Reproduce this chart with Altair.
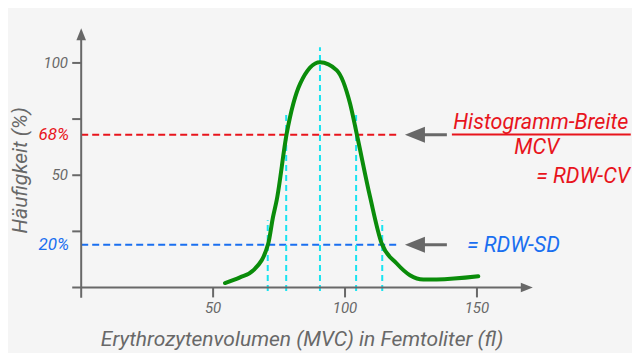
import altair as alt
import pandas as pd

# curve (MCV in fl, frequency in %)
curve_x = [54.5, 60.2, 65.3, 70.9, 72.7, 74.1, 77.9, 83.0, 90.5, 96.9, 101.9, 104.4, 109.5, 113.9, 119.6, 124.6, 129.7, 134.7, 150.5]
curve_y = [2.0, 4.5, 7.7, 19.6, 31.4, 38.9, 68.6, 90.8, 100.3, 96.7, 81.9, 68.6, 40.3, 19.6, 10.7, 5.5, 3.6, 3.6, 5.0]

# cyan vertical markers
vline_x = [70.7, 77.7, 90.5, 104.2, 114.1]
vline_top = [30, 77.5, 107, 77.5, 30]

# horizontal reference levels
h_levels = [68, 19]
h_labels = ["68%", "20%"]
h_colors = ["#e8141c", "#1a6ff0"]

y_ticks = [25, 50, 75, 100]
y_tick_labels = ["", "50", "", "100"]
x_ticks = [50, 100, 150]
x_tick_labels = ["50", "100", "150"]

GRAY = "#686868"
RED = "#e8141c"
BLUE = "#1a6ff0"
FONT = "Roboto"

xs = alt.Scale(domain=[-5, 172], nice=False, zero=False)
ys = alt.Scale(domain=[-6, 116], nice=False, zero=False)

def X(f="x"):
    return alt.X(f, type="quantitative", scale=xs, axis=None)

def Y(f="y"):
    return alt.Y(f, type="quantitative", scale=ys, axis=None)

# axes lines
axes_df = pd.DataFrame({"x": [-3.4, 0], "x2": [169, 0], "y": [0, -4.5], "y2": [0, 112]})
axes = alt.Chart(axes_df).mark_rule(color=GRAY, strokeWidth=2).encode(
    x=X("x"), x2="x2", y=Y("y"), y2="y2")

ytick_df = pd.DataFrame({"x": [-3.4] * 4, "x2": [0] * 4, "y": y_ticks, "label": y_tick_labels})
yticks = alt.Chart(ytick_df).mark_rule(color=GRAY, strokeWidth=2).encode(
    x=X("x"), x2="x2", y=Y("y"))
ylabels = alt.Chart(ytick_df).mark_text(align="right", baseline="middle", font=FONT,
                                        fontStyle="italic", fontSize=15, color=GRAY).encode(
    x=X("lx"), y=Y("y"), text="label").transform_calculate(lx="-5")

xtick_df = pd.DataFrame({"x": x_ticks, "y": [0] * 3, "y2": [-4.4] * 3, "label": x_tick_labels})
xticks = alt.Chart(xtick_df).mark_rule(color=GRAY, strokeWidth=2).encode(
    x=X("x"), y=Y("y"), y2="y2")
xlabels = alt.Chart(xtick_df).mark_text(align="center", baseline="middle", font=FONT,
                                        fontStyle="italic", fontSize=15, color=GRAY).encode(
    x=X("x"), y=Y("ly"), text="label").transform_calculate(ly="-9.3")

# arrowheads on axes
ahead_df = pd.DataFrame({"x": [0], "y": [112.8]})
yarrow = alt.Chart(ahead_df).mark_point(shape="M 0 -1 L -0.8 1 L 0.8 1 Z", filled=True,
                                        opacity=1, size=144, color=GRAY).encode(x=X("x"), y=Y("y"))
xhead_df = pd.DataFrame({"x": [168.9], "y": [0]})
xarrow = alt.Chart(xhead_df).mark_point(shape="M 1 0 L -1 -0.8 L -1 0.8 Z", filled=True,
                                        opacity=1, size=144, color=GRAY).encode(x=X("x"), y=Y("y"))

# axis titles
xt_df = pd.DataFrame({"x": [83.7], "y": [-23.4], "t": ["Erythrozytenvolumen (MVC) in Femtoliter (fl)"]})
xtitle = alt.Chart(xt_df).mark_text(font=FONT, fontStyle="italic", fontSize=21, color=GRAY,
                                    align="center", baseline="middle").encode(x=X("x"), y=Y("y"), text="t")
yt_df = pd.DataFrame({"x": [-22.8], "y": [52.2], "t": ["Häufigkeit (%)"]})
ytitle = alt.Chart(yt_df).mark_text(font=FONT, fontStyle="italic", fontSize=21, color=GRAY,
                                    align="center", baseline="middle", angle=270).encode(x=X("x"), y=Y("y"), text="t")

# horizontal dashed lines
h_df = pd.DataFrame({"x": [0, 0], "x2": [119.7, 119.7], "y": h_levels, "label": h_labels, "c": h_colors})
hlines = alt.Chart(h_df).mark_rule(strokeWidth=2, strokeDash=[7, 4]).encode(
    x=X("x"), x2="x2", y=Y("y"), color=alt.Color("c:N", scale=None))
hlabels = alt.Chart(h_df).mark_text(align="right", baseline="middle", font=FONT, fontStyle="italic",
                                    fontSize=17).encode(
    x=X("lx"), y=Y("y"), text="label", color=alt.Color("c:N", scale=None)).transform_calculate(lx="-4.6")

# cyan vertical lines
v_df = pd.DataFrame({"x": vline_x, "y": [-1.5] * 5, "y2": vline_top})
vlines = alt.Chart(v_df).mark_rule(color="#19e3f0", strokeWidth=2, strokeDash=[6, 4]).encode(
    x=X("x"), y=Y("y"), y2="y2")

# curve
c_df = pd.DataFrame({"x": curve_x, "y": curve_y})
curve = alt.Chart(c_df).mark_line(color="#0a8c0a", strokeWidth=4, interpolate="monotone",
                                  strokeCap="round").encode(x=X("x"), y=Y("y"))

# annotation arrows
arr_df = pd.DataFrame({"x": [126.5, 126.5], "x2": [138.6, 138.6], "y": h_levels})
shafts = alt.Chart(arr_df).mark_rule(color=GRAY, strokeWidth=3).encode(x=X("x"), x2="x2", y=Y("y"))
heads = alt.Chart(arr_df).mark_point(shape="M -1 0 L 1 -0.8 L 1 0.8 Z", filled=True, opacity=1,
                                     size=400, color=GRAY).encode(x=X("x"), y=Y("y"))

# annotation texts
ann_c_df = pd.DataFrame({"x": [174.2, 172.7], "y": [73.3, 62.0], "t": ["Histogramm-Breite", "MCV"]})
ann_c = alt.Chart(ann_c_df).mark_text(font=FONT, fontStyle="italic", fontSize=21.5, color=RED,
                                      align="center", baseline="middle").encode(x=X("x"), y=Y("y"), text="t")
ann_r_df = pd.DataFrame({"x": [208.0], "y": [49.2], "t": ["= RDW-CV"]})
ann_r = alt.Chart(ann_r_df).mark_text(font=FONT, fontStyle="italic", fontSize=21.5, color=RED,
                                      align="right", baseline="middle").encode(x=X("x"), y=Y("y"), text="t")
ann_l_df = pd.DataFrame({"x": [146.2], "y": [18.5], "t": ["= RDW-SD"]})
ann_l = alt.Chart(ann_l_df).mark_text(font=FONT, fontStyle="italic", fontSize=21.5, color=BLUE,
                                      align="left", baseline="middle").encode(x=X("x"), y=Y("y"), text="t")
bar_df = pd.DataFrame({"x": [140.5], "x2": [208.3], "y": [68.1]})
fbar = alt.Chart(bar_df).mark_rule(color=RED, strokeWidth=2).encode(x=X("x"), x2="x2", y=Y("y"))

chart = alt.layer(
    hlines, vlines, axes, yticks, xticks, yarrow, xarrow, ylabels, xlabels, hlabels,
    xtitle, ytitle, curve, shafts, heads, ann_c, ann_r, ann_l, fbar
).properties(
    width=467, height=274,
    autosize=alt.AutoSizeParams(type="none"),
    padding={"left": 60, "top": 19, "right": 97, "bottom": 52},
    background="#f5f5f5",
).configure_view(stroke=None)

chart.save("out.html", embed_options={"renderer": "svg", "actions": False})
